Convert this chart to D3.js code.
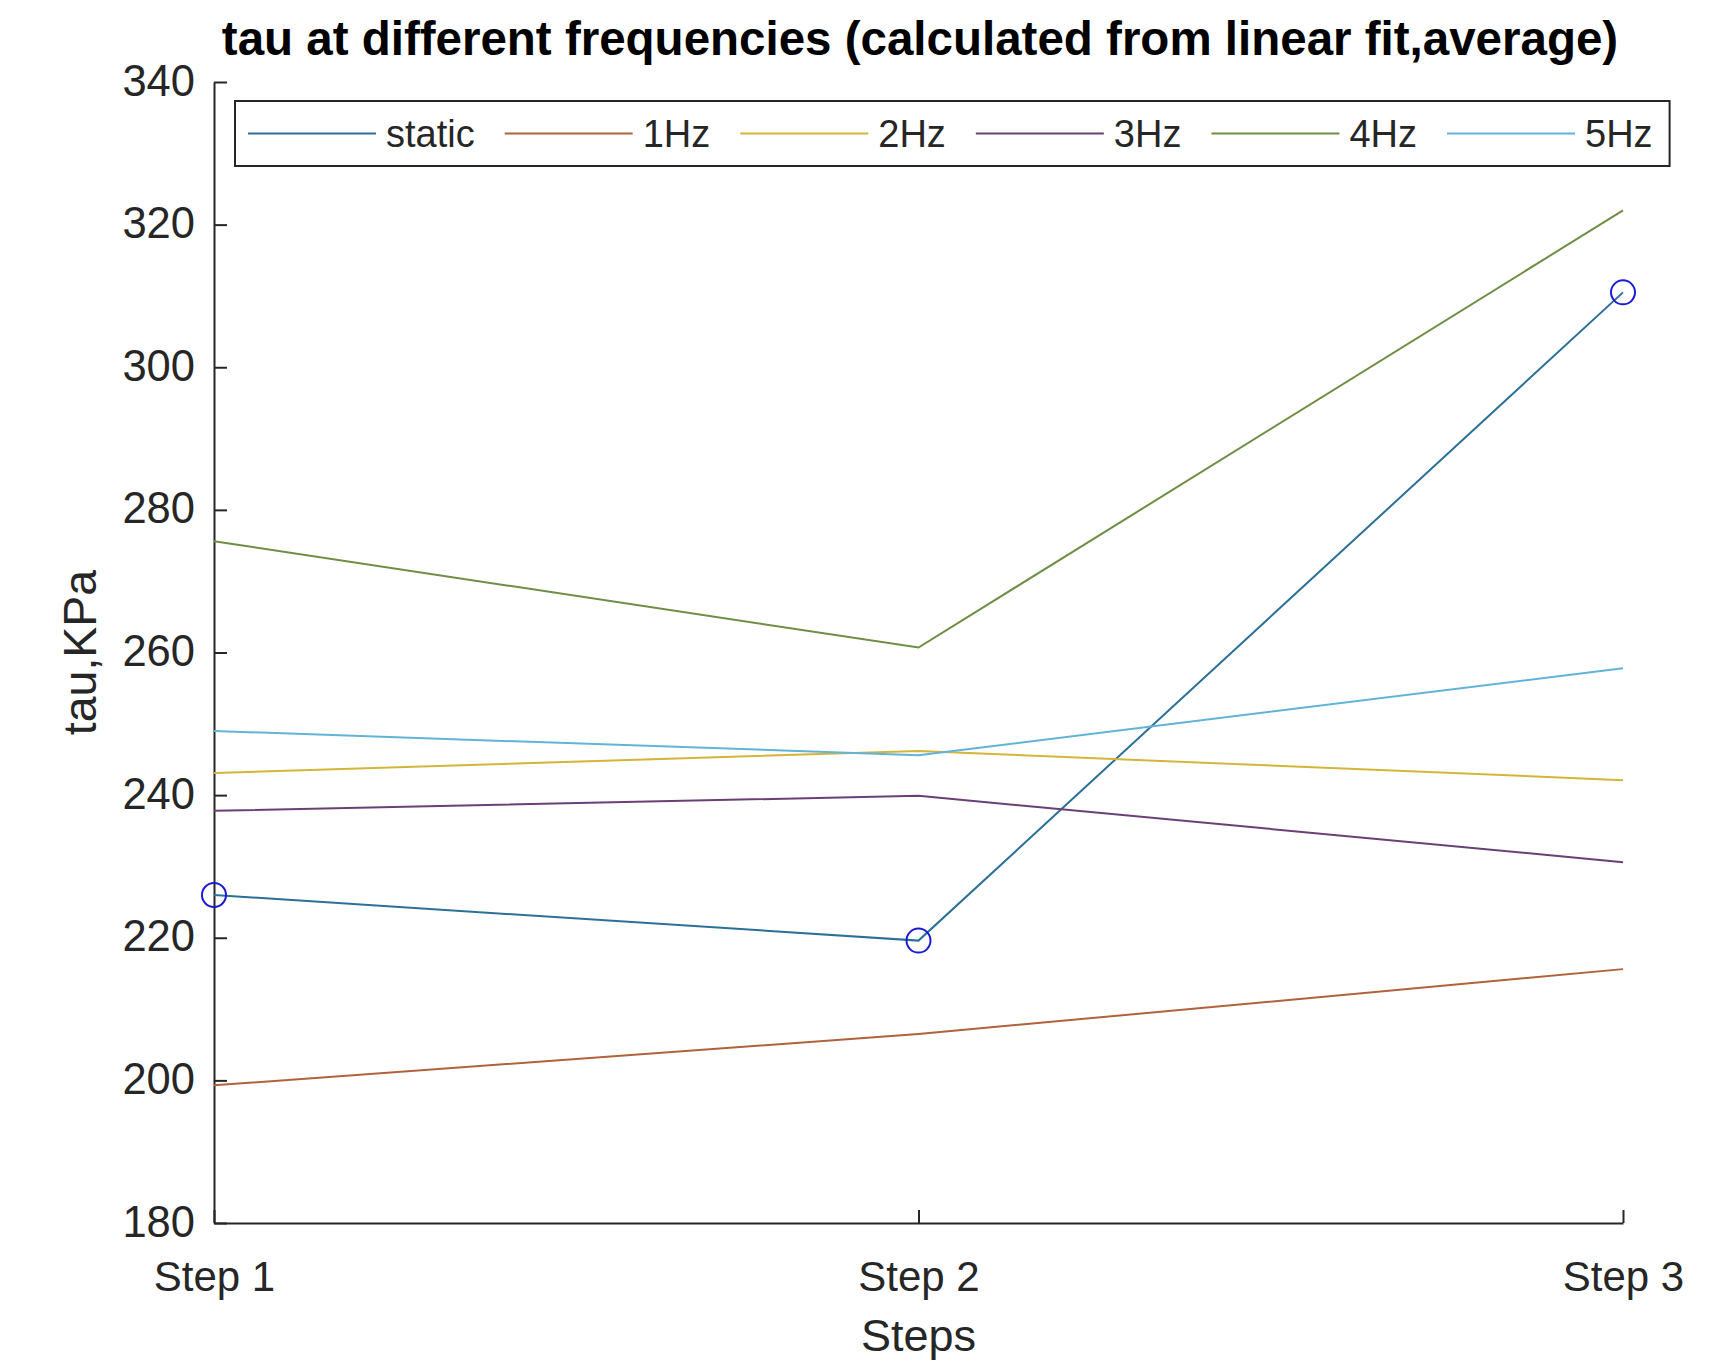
<!DOCTYPE html>
<html>
<head>
<meta charset="utf-8">
<script src="https://cdn.jsdelivr.net/npm/d3@7"></script>
<style>
  html, body { margin: 0; padding: 0; background: #ffffff; }
  svg { display: block; font-family: "Liberation Sans", Arial, sans-serif; }
</style>
</head>
<body>
<svg id="chart" width="1720" height="1361"></svg>
<script>
// Step categories along the x axis
const steps = ["Step 1", "Step 2", "Step 3"];

// Series names (legend order) and their values at each step, tau in KPa
const seriesNames = ["static", "1Hz", "2Hz", "3Hz", "4Hz", "5Hz"];
const staticVals = [226.0, 219.6, 310.5];
const hz1Vals    = [199.3, 206.5, 215.6];
const hz2Vals    = [243.1, 246.2, 242.1];
const hz3Vals    = [237.8, 239.9, 230.6];
const hz4Vals    = [275.6, 260.7, 322.0];
const hz5Vals    = [249.0, 245.6, 257.8];

// y axis tick values
const yTicks = [180, 200, 220, 240, 260, 280, 300, 320, 340];

const seriesValues = [staticVals, hz1Vals, hz2Vals, hz3Vals, hz4Vals, hz5Vals];
const seriesColors = ["#2c6f98", "#b0623a", "#d4b53a", "#6a3f76", "#6f8d44", "#62b3d8"];

const series = seriesNames.map((name, i) => ({
  name,
  color: seriesColors[i],
  points: steps.map((s, j) => ({ step: s, value: seriesValues[i][j] }))
}));

const svg = d3.select("#chart");
const axisColor = "#262626";

const plot = { left: 214, right: 1623, top: 82, bottom: 1223 };

const x = d3.scalePoint().domain(steps).range([plot.left, plot.right]).padding(0);
const y = d3.scaleLinear().domain([180, 340]).range([plot.bottom, plot.top]);

// Title
svg.append("text")
  .attr("x", 920)
  .attr("y", 55)
  .attr("text-anchor", "middle")
  .attr("font-size", 47.5)
  .attr("font-weight", "bold")
  .attr("fill", "#000")
  .text("tau at different frequencies (calculated from linear fit,average)");

// Y axis: ticks point inward, labels on the left
const yAxis = d3.axisLeft(y).tickValues(yTicks).tickSizeInner(-13).tickSizeOuter(0).tickPadding(19);
const gy = svg.append("g")
  .attr("transform", `translate(${plot.left},0)`)
  .call(yAxis);
gy.select(".domain").attr("stroke", axisColor).attr("stroke-width", 2);
gy.selectAll(".tick line").attr("stroke", axisColor).attr("stroke-width", 2);
gy.selectAll(".tick text")
  .attr("font-size", 43.5)
  .attr("font-family", "Liberation Sans, Arial, sans-serif")
  .attr("fill", axisColor)
  .attr("dy", "0.3em");

// X axis: ticks point inward (up), labels below
const xAxis = d3.axisBottom(x).tickSizeInner(-13).tickSizeOuter(0).tickPadding(36);
const gx = svg.append("g")
  .attr("transform", `translate(0,${plot.bottom})`)
  .call(xAxis);
gx.select(".domain").attr("stroke", axisColor).attr("stroke-width", 2);
gx.selectAll(".tick line").attr("stroke", axisColor).attr("stroke-width", 2);
gx.selectAll(".tick text")
  .attr("font-size", 42)
  .attr("font-family", "Liberation Sans, Arial, sans-serif")
  .attr("fill", axisColor)
  .attr("dy", "0.75em");

// Axis titles
svg.append("text")
  .attr("x", (plot.left + plot.right) / 2)
  .attr("y", 1351)
  .attr("text-anchor", "middle")
  .attr("font-size", 45)
  .attr("fill", axisColor)
  .text("Steps");

svg.append("text")
  .attr("transform", `translate(96,${(plot.top + plot.bottom) / 2}) rotate(-90)`)
  .attr("text-anchor", "middle")
  .attr("font-size", 46.5)
  .attr("fill", axisColor)
  .text("tau,KPa");

// Series lines
const line = d3.line().x(d => x(d.step)).y(d => y(d.value));
svg.append("g")
  .selectAll("path")
  .data(series)
  .join("path")
  .attr("d", d => line(d.points))
  .attr("fill", "none")
  .attr("stroke", d => d.color)
  .attr("stroke-width", 2);

// Circle markers on the static series
svg.append("g")
  .selectAll("circle")
  .data(series[0].points)
  .join("circle")
  .attr("cx", d => x(d.step))
  .attr("cy", d => y(d.value))
  .attr("r", 12)
  .attr("fill", "none")
  .attr("stroke", "#1a1ad6")
  .attr("stroke-width", 2);

// Legend: one horizontal row inside a box
const legend = svg.append("g");
const legendBox = { x: 235, y: 101, h: 65 };
const lineLen = 128, lineGap = 10, itemGap = 30, legendFont = 38;
const legendBg = legend.append("rect")
  .attr("x", legendBox.x)
  .attr("y", legendBox.y)
  .attr("height", legendBox.h)
  .attr("fill", "#fff")
  .attr("stroke", axisColor)
  .attr("stroke-width", 2);

let cursor = legendBox.x + 13;
const cy = legendBox.y + legendBox.h / 2;
series.forEach(s => {
  legend.append("line")
    .attr("x1", cursor).attr("x2", cursor + lineLen)
    .attr("y1", cy).attr("y2", cy)
    .attr("stroke", s.color).attr("stroke-width", 2);
  cursor += lineLen + lineGap;
  const t = legend.append("text")
    .attr("x", cursor)
    .attr("y", cy)
    .attr("dy", "0.36em")
    .attr("font-size", legendFont)
    .attr("fill", axisColor)
    .text(s.name);
  cursor += t.node().getComputedTextLength() + itemGap;
});
legendBg.attr("width", cursor - itemGap + 17 - legendBox.x);
</script>
</body>
</html>
